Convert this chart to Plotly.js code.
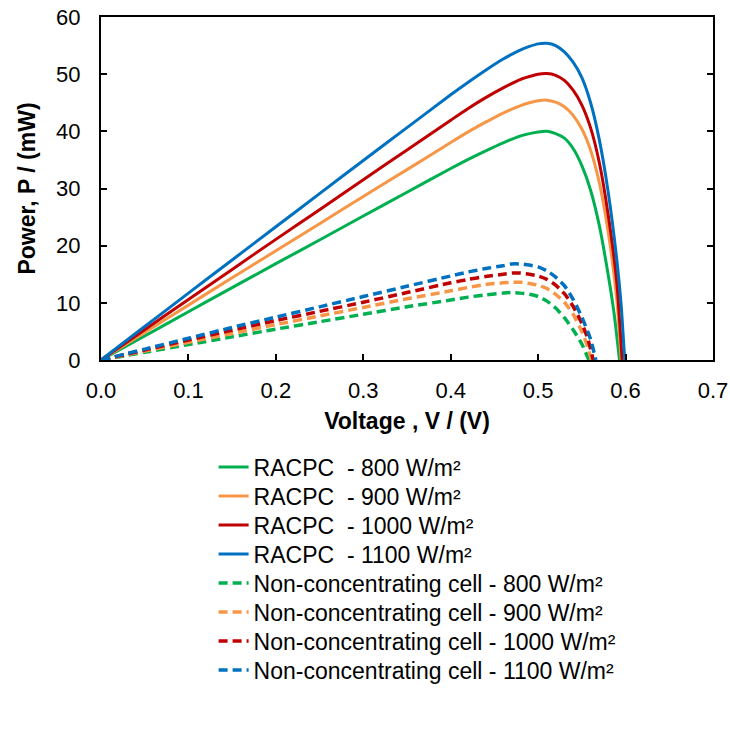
<!DOCTYPE html>
<html>
<head>
<meta charset="utf-8">
<script src="https://cdn.plot.ly/plotly-3.0.1.min.js"></script>
<style>html,body{margin:0;padding:0;background:#fff;}#chart{width:730px;height:746px;}</style>
</head>
<body>
<div id="chart"></div>
<script>
// Voltage (V) and Power (mW)
const racpc800V  = [0, 0.05, 0.1, 0.15, 0.2, 0.25, 0.3, 0.35, 0.4, 0.42, 0.44, 0.46, 0.48, 0.49, 0.5, 0.51, 0.52, 0.53, 0.54, 0.55, 0.56, 0.57, 0.58, 0.587, 0.593];
const racpc800P  = [0, 4.2, 8.45, 12.65, 16.85, 21.0, 25.2, 29.35, 33.5, 35.1, 36.6, 38.0, 39.2, 39.6, 39.9, 40.0, 39.6, 38.8, 37.0, 34.0, 29.7, 23.5, 15.0, 8.0, 0];
const racpc900V  = [0, 0.05, 0.1, 0.15, 0.2, 0.25, 0.3, 0.35, 0.4, 0.42, 0.44, 0.46, 0.48, 0.49, 0.5, 0.51, 0.52, 0.53, 0.54, 0.55, 0.56, 0.57, 0.58, 0.59, 0.595];
const racpc900P  = [0, 4.8, 9.6, 14.4, 19.1, 23.85, 28.6, 33.3, 38.05, 39.9, 41.6, 43.2, 44.5, 45.0, 45.35, 45.45, 45.1, 44.3, 42.8, 40.4, 36.7, 31.0, 22.5, 10.5, 0];
const racpc1000V = [0, 0.05, 0.1, 0.15, 0.2, 0.25, 0.3, 0.35, 0.4, 0.42, 0.44, 0.46, 0.48, 0.49, 0.5, 0.51, 0.52, 0.53, 0.54, 0.55, 0.56, 0.57, 0.58, 0.59, 0.596];
const racpc1000P = [0, 5.3, 10.6, 15.85, 21.1, 26.3, 31.55, 36.75, 41.95, 44.0, 45.9, 47.6, 49.1, 49.6, 50.0, 50.1, 49.8, 48.9, 47.2, 44.6, 40.6, 34.5, 25.5, 13.5, 0];
const racpc1100V = [0, 0.05, 0.1, 0.15, 0.2, 0.25, 0.3, 0.35, 0.4, 0.42, 0.44, 0.46, 0.48, 0.49, 0.5, 0.51, 0.52, 0.53, 0.54, 0.55, 0.56, 0.57, 0.58, 0.59, 0.595, 0.599];
const racpc1100P = [0, 5.85, 11.7, 17.5, 23.3, 29.1, 34.9, 40.65, 46.4, 48.6, 50.7, 52.65, 54.25, 54.85, 55.3, 55.4, 55.0, 53.9, 52.1, 49.4, 45.0, 38.5, 29.5, 17.5, 9.5, 0];

const non800V  = [0, 0.05, 0.1, 0.15, 0.2, 0.25, 0.3, 0.35, 0.4, 0.42, 0.44, 0.46, 0.47, 0.48, 0.49, 0.5, 0.51, 0.52, 0.53, 0.54, 0.55, 0.558];
const non800P  = [0, 1.35, 2.7, 4.05, 5.4, 6.7, 8.0, 9.3, 10.5, 11.0, 11.4, 11.7, 11.8, 11.7, 11.5, 11.1, 10.3, 9.1, 7.4, 5.3, 2.8, 0];
const non900V  = [0, 0.05, 0.1, 0.15, 0.2, 0.25, 0.3, 0.35, 0.4, 0.42, 0.44, 0.46, 0.47, 0.48, 0.49, 0.5, 0.51, 0.52, 0.53, 0.54, 0.55, 0.556, 0.561];
const non900P  = [0, 1.55, 3.1, 4.65, 6.2, 7.7, 9.2, 10.7, 12.1, 12.7, 13.2, 13.5, 13.6, 13.6, 13.4, 13.1, 12.5, 11.5, 10.1, 8.0, 5.0, 2.6, 0];
const non1000V = [0, 0.05, 0.1, 0.15, 0.2, 0.25, 0.3, 0.35, 0.4, 0.42, 0.44, 0.46, 0.47, 0.48, 0.49, 0.5, 0.51, 0.52, 0.53, 0.54, 0.55, 0.557, 0.563];
const non1000P = [0, 1.75, 3.5, 5.2, 6.9, 8.5, 10.1, 11.8, 13.5, 14.1, 14.6, 15.0, 15.2, 15.2, 15.0, 14.7, 14.1, 13.1, 11.6, 9.4, 6.4, 3.6, 0];
const non1100V = [0, 0.05, 0.1, 0.15, 0.2, 0.25, 0.3, 0.35, 0.4, 0.42, 0.44, 0.46, 0.47, 0.48, 0.49, 0.5, 0.51, 0.52, 0.53, 0.54, 0.55, 0.56, 0.566];
const non1100P = [0, 1.9, 3.8, 5.7, 7.5, 9.3, 11.1, 12.9, 14.7, 15.4, 16.0, 16.5, 16.8, 16.8, 16.6, 16.3, 15.6, 14.5, 13.0, 10.6, 7.5, 3.6, 0];

const seriesNames = [
  "RACPC\u00a0 - 800 W/m²", "RACPC\u00a0 - 900 W/m²", "RACPC\u00a0 - 1000 W/m²", "RACPC\u00a0 - 1100 W/m²",
  "Non-concentrating cell - 800 W/m²", "Non-concentrating cell - 900 W/m²",
  "Non-concentrating cell - 1000 W/m²", "Non-concentrating cell - 1100 W/m²"
];
const xTicks = [0, 0.1, 0.2, 0.3, 0.4, 0.5, 0.6, 0.7];
const yTicks = [0, 10, 20, 30, 40, 50, 60];

const colors = ["#00B050", "#F79646", "#C00000", "#0070C0"];
const xs = [racpc800V, racpc900V, racpc1000V, racpc1100V, non800V, non900V, non1000V, non1100V];
const ys = [racpc800P, racpc900P, racpc1000P, racpc1100P, non800P, non900P, non1000P, non1100P];

const legendId = i => (i === 0 ? "legend" : "legend" + (i + 1));

const traces = xs.map((x, i) => ({
  type: "scatter", mode: "lines", x: x, y: ys[i], name: seriesNames[i],
  legend: legendId(i),
  line: { color: colors[i % 4], width: i < 4 ? 3 : 3.5, dash: i < 4 ? "solid" : "9px,5px", shape: "spline", smoothing: 0.6 }
}));

const font = "Arial, 'Liberation Sans', sans-serif";
const layout = {
  width: 730, height: 746,
  margin: { l: 101, r: 17, t: 17, b: 386 },
  paper_bgcolor: "#fff", plot_bgcolor: "#fff",
  font: { family: font, color: "#000", size: 22 },
  showlegend: true,
  xaxis: {
    range: [0, 0.7], tickvals: xTicks, tickformat: ".1f",
    showline: true, linecolor: "#000", linewidth: 2, mirror: true,
    ticks: "inside", ticklen: 6, tickwidth: 2, tickcolor: "#000",
    showgrid: false, zeroline: false, ticklabelstandoff: 10,
    tickfont: { size: 22 },
    title: { text: "<b>Voltage , V / (V)</b>", font: { size: 23 }, standoff: 10 }
  },
  yaxis: {
    range: [0, 60], tickvals: yTicks,
    showline: true, linecolor: "#000", linewidth: 2, mirror: "ticks",
    ticks: "inside", ticklen: 6, tickwidth: 2, tickcolor: "#000",
    showgrid: false, zeroline: false, ticklabelstandoff: 14,
    tickfont: { size: 22 },
    title: { text: "<b>Power, P / (mW)</b>", font: { size: 23 }, standoff: 14 }
  }
};

// one legend box per row so the row spacing matches the reference
const plotTop = 17, plotBottom = 360, firstRow = 467, rowStep = 29;
for (let i = 0; i < 8; i++) {
  layout[legendId(i)] = {
    x: 0.184, xanchor: "left",
    y: (plotBottom - (firstRow + rowStep * i)) / (plotBottom - plotTop), yanchor: "middle",
    font: { family: font, size: 23, color: "#000" },
    bgcolor: "rgba(0,0,0,0)", borderwidth: 0
  };
}

Plotly.newPlot("chart", traces, layout, { staticPlot: true, displayModeBar: false });
</script>
</body>
</html>
